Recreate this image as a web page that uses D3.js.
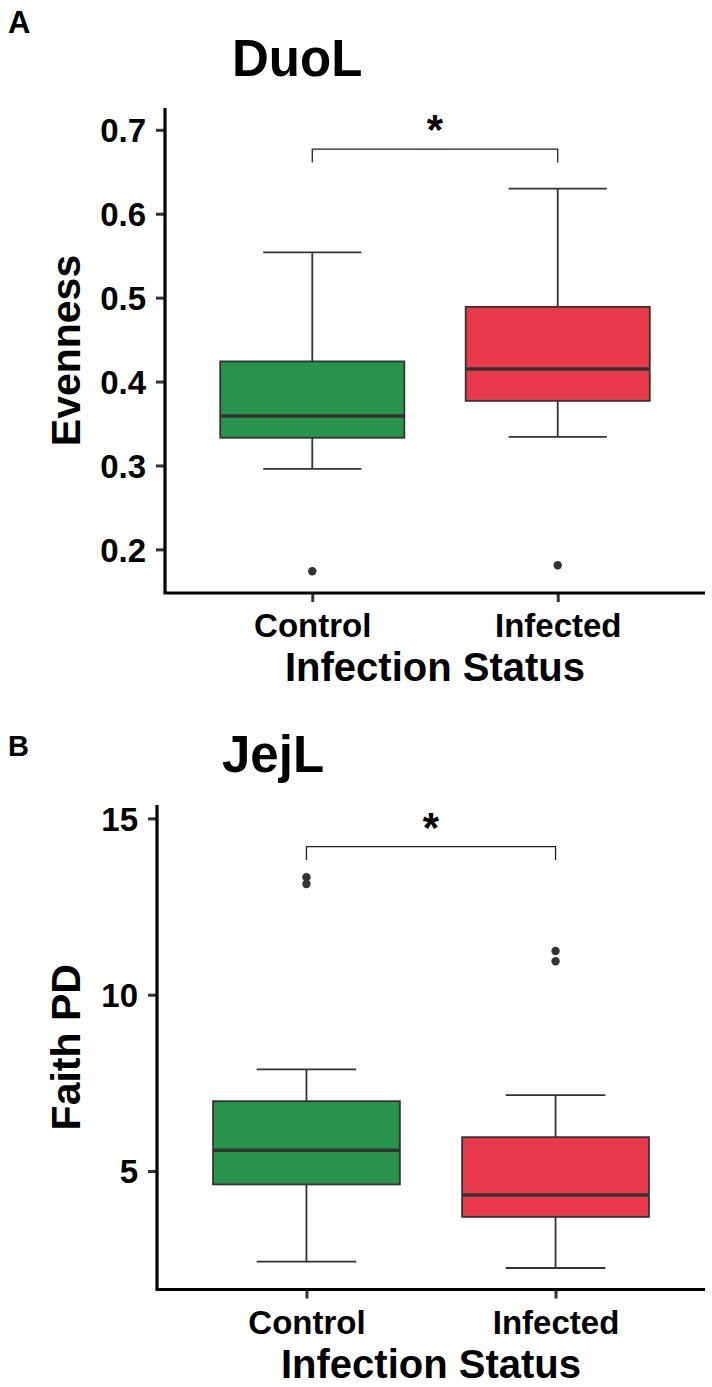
<!DOCTYPE html>
<html>
<head>
<meta charset="utf-8">
<script src="https://cdn.jsdelivr.net/npm/d3@7"></script>
<style>
  body { margin: 0; background: #fff; }
  text { font-family: "Liberation Sans", Arial, Helvetica, sans-serif; font-weight: bold; fill: #000; }
</style>
</head>
<body>
<div id="chart"></div>
<script>
// Categories and box-plot statistics
var categories = ["Control", "Infected"];
var boxColors = ["#27934b", "#e83a4a"];

// Panel A: DuoL evenness
var duolLower = [0.296, 0.334];
var duolQ1 = [0.333, 0.377];
var duolMedian = [0.359, 0.415];
var duolQ3 = [0.424, 0.489];
var duolUpper = [0.554, 0.630];
var duolOutliers = [[0.174], [0.181]];
var duolTicks = [0.2, 0.3, 0.4, 0.5, 0.6, 0.7];
var duolSig = [0.677, 0.661];

// Panel B: JejL Faith PD
var jejlLower = [2.43, 2.25];
var jejlQ1 = [4.62, 3.70];
var jejlMedian = [5.59, 4.32];
var jejlQ3 = [6.98, 5.96];
var jejlUpper = [7.88, 7.15];
var jejlOutliers = [[13.14, 13.33], [10.95, 11.24]];
var jejlTicks = [5, 10, 15];
var jejlSig = [14.2, 13.82];

var svg = d3.select("#chart")
  .append("svg")
  .attr("width", 712)
  .attr("height", 1387);

function drawPanel(p) {
  var g = svg.append("g");

  var x = d3.scalePoint()
    .domain(categories)
    .range([p.left, p.right])
    .padding(0.6);
  var step = x.step();

  var y = d3.scaleLinear()
    .domain(p.domain)
    .range([p.bottom, p.top]);

  var rows = categories.map(function(c, i) {
    return {
      cat: c, color: boxColors[i],
      lower: p.lower[i], q1: p.q1[i], median: p.median[i],
      q3: p.q3[i], upper: p.upper[i], outliers: p.outliers[i]
    };
  });

  // panel letter and title
  g.append("text")
    .attr("x", 8).attr("y", p.letterY)
    .style("font-size", p.letterSize)
    .text(p.letter);
  g.append("text")
    .attr("x", p.titleX).attr("y", p.titleY)
    .style("font-size", "51px")
    .text(p.title);

  // whiskers
  var bw = step * 0.75;
  var cw = step * 0.4;
  rows.forEach(function(d) {
    var cx = x(d.cat);
    g.append("line")
      .attr("x1", cx).attr("x2", cx)
      .attr("y1", y(d.upper)).attr("y2", y(d.q3))
      .attr("stroke", "#333").attr("stroke-width", 1.8);
    g.append("line")
      .attr("x1", cx).attr("x2", cx)
      .attr("y1", y(d.q1)).attr("y2", y(d.lower))
      .attr("stroke", "#333").attr("stroke-width", 1.8);
    [d.upper, d.lower].forEach(function(v) {
      g.append("line")
        .attr("x1", cx - cw / 2).attr("x2", cx + cw / 2)
        .attr("y1", y(v)).attr("y2", y(v))
        .attr("stroke", "#333").attr("stroke-width", 1.8);
    });
  });

  // boxes
  g.selectAll(".box")
    .data(rows)
    .enter()
    .append("rect")
    .attr("x", d => x(d.cat) - bw / 2)
    .attr("y", d => y(d.q3))
    .attr("width", bw)
    .attr("height", d => y(d.q1) - y(d.q3))
    .attr("fill", d => d.color)
    .attr("stroke", "#333")
    .attr("stroke-width", 1.8);

  g.selectAll(".med")
    .data(rows)
    .enter()
    .append("line")
    .attr("x1", d => x(d.cat) - bw / 2)
    .attr("x2", d => x(d.cat) + bw / 2)
    .attr("y1", d => y(d.median))
    .attr("y2", d => y(d.median))
    .attr("stroke", "#333")
    .attr("stroke-width", 3.4);

  // outliers
  rows.forEach(function(d) {
    g.selectAll(null)
      .data(d.outliers)
      .enter()
      .append("circle")
      .attr("cx", x(d.cat))
      .attr("cy", v => y(v))
      .attr("r", 4.2)
      .attr("fill", "#333");
  });

  // significance bracket
  var x1 = x(categories[0]), x2 = x(categories[1]);
  g.append("path")
    .attr("d", "M" + x1 + "," + y(p.sig[1]) + "V" + y(p.sig[0]) + "H" + x2 + "V" + y(p.sig[1]))
    .attr("fill", "none")
    .attr("stroke", "#222")
    .attr("stroke-width", 1.3);
  g.append("text")
    .attr("x", (x1 + x2) / 2)
    .attr("y", y(p.sig[0]) - 5)
    .attr("text-anchor", "middle")
    .style("font-size", "42px")
    .text("*");

  // axes
  var yAxis = d3.axisLeft(y).tickValues(p.ticks).tickSize(9).tickPadding(10)
    .tickFormat(p.fmt);
  var ya = g.append("g")
    .attr("transform", "translate(" + p.left + ",0)")
    .call(yAxis);
  ya.select(".domain").remove();
  ya.selectAll(".tick line").attr("stroke", "#333").attr("stroke-width", 3);
  ya.selectAll(".tick text").style("font-size", "33px").attr("dy", "0.36em").attr("fill", "#000");

  var xAxis = d3.axisBottom(x).tickSize(9).tickPadding(12);
  var xa = g.append("g")
    .attr("transform", "translate(0," + p.bottom + ")")
    .call(xAxis);
  xa.select(".domain").remove();
  xa.selectAll(".tick line").attr("stroke", "#333").attr("stroke-width", 3);
  xa.selectAll(".tick text").style("font-size", "33px").attr("dy", "0.71em").attr("fill", "#000");

  g.append("path")
    .attr("d", "M" + p.left + "," + p.top + "V" + p.bottom + "H" + p.right)
    .attr("fill", "none")
    .attr("stroke", "#000")
    .attr("stroke-width", 3.2);

  // axis titles
  g.append("text")
    .attr("transform", "translate(80," + ((p.top + p.bottom) / 2) + ") rotate(-90)")
    .attr("text-anchor", "middle")
    .style("font-size", "41px")
    .text(p.yLabel);
  g.append("text")
    .attr("x", (p.left + p.right) / 2)
    .attr("y", p.bottom + 88)
    .attr("text-anchor", "middle")
    .style("font-size", "40px")
    .text("Infection Status");
}

drawPanel({
  letter: "A", letterY: 33, letterSize: "31px",
  title: "DuoL", titleX: 232, titleY: 76,
  left: 165, right: 705, top: 108, bottom: 593,
  domain: [0.148, 0.726], ticks: duolTicks, fmt: d3.format(".1f"),
  lower: duolLower, q1: duolQ1, median: duolMedian, q3: duolQ3,
  upper: duolUpper, outliers: duolOutliers, sig: duolSig,
  yLabel: "Evenness"
});

drawPanel({
  letter: "B", letterY: 756, letterSize: "29px",
  title: "JejL", titleX: 222, titleY: 772,
  left: 157, right: 705, top: 805, bottom: 1289.5,
  domain: [1.64, 15.38], ticks: jejlTicks, fmt: d3.format("d"),
  lower: jejlLower, q1: jejlQ1, median: jejlMedian, q3: jejlQ3,
  upper: jejlUpper, outliers: jejlOutliers, sig: jejlSig,
  yLabel: "Faith PD"
});
</script>
</body>
</html>
